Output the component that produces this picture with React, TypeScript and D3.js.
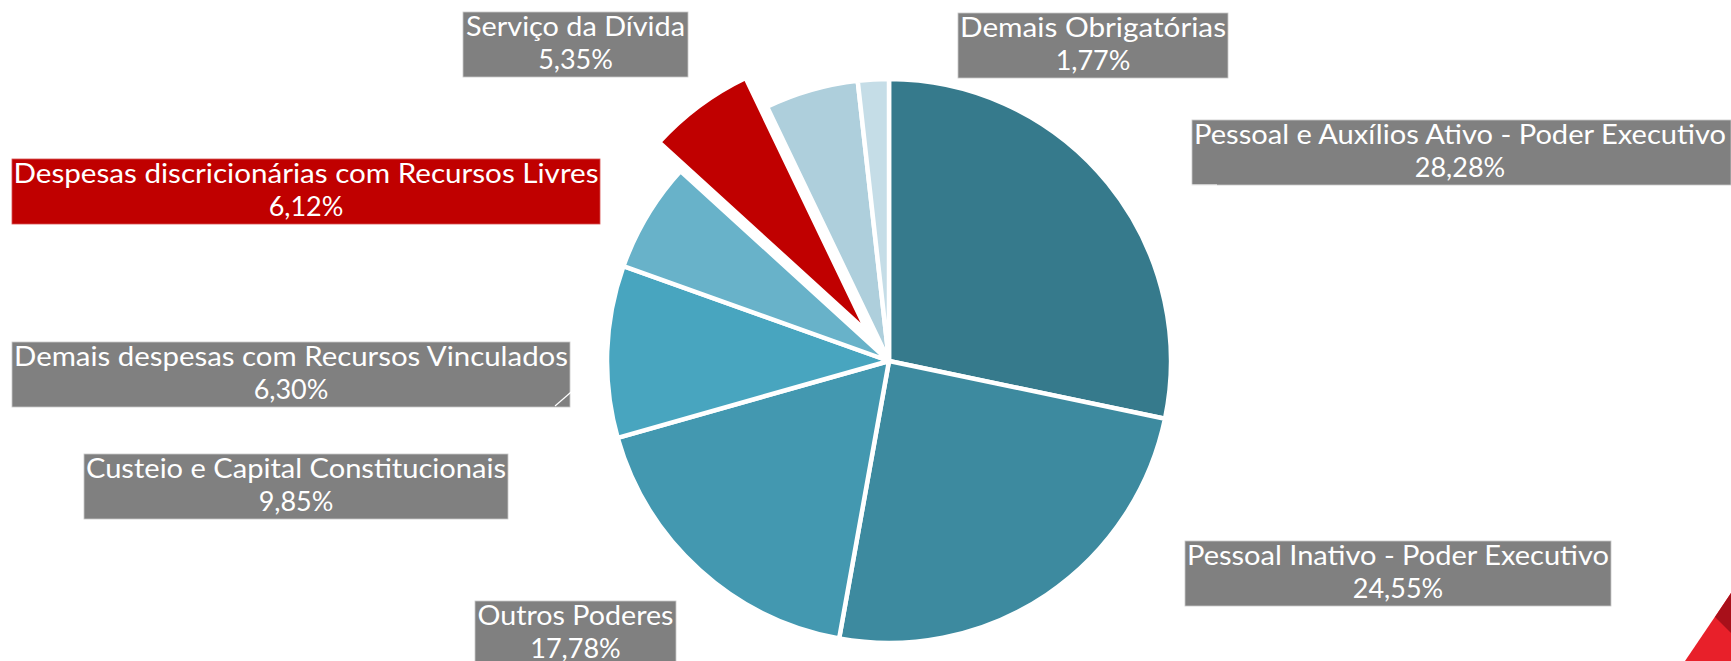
import React from "react";
import * as d3 from "d3";

// ---- Data ----
const categories: string[] = [
  "Pessoal e Auxílios Ativo - Poder Executivo",
  "Pessoal Inativo - Poder Executivo",
  "Outros Poderes",
  "Custeio e Capital Constitucionais",
  "Demais despesas com Recursos Vinculados",
  "Despesas discricionárias com Recursos Livres",
  "Serviço da Dívida",
  "Demais Obrigatórias",
];
const values: number[] = [28.28, 24.55, 17.78, 9.85, 6.3, 6.12, 5.35, 1.77];
const highlightIndex = 5;

// ---- Styles ----
const sliceColors: string[] = [
  "#367A8C",
  "#3D8A9F",
  "#4398B0",
  "#48A5BF",
  "#68B2C9",
  "#C00000",
  "#AECFDC",
  "#C5DDE7",
];

// ---- Layout (label boxes, manually placed as in the original) ----
const labelBoxes = [
  { x0: 1192, x1: 1731, y0: 120, tw: 532 },
  { x0: 1185, x1: 1611, y0: 541, tw: 422 },
  { x0: 475, x1: 676, y0: 601, tw: 196 },
  { x0: 84, x1: 508, y0: 454, tw: 420 },
  { x0: 12, x1: 570, y0: 342, tw: 554 },
  { x0: 12, x1: 600, y0: 159, tw: 585 },
  { x0: 463, x1: 688, y0: 12, tw: 219 },
  { x0: 958, x1: 1228, y0: 13, tw: 266 },
];

const W = 1731;
const H = 661;
const CX = 889;
const CY = 361;
const R = 282;
const EXPLODE = 36;
const BOX_H = 65;
const FONT = "Lato, 'Open Sans', sans-serif";

const fmtPct = (v: number) => d3.format(".2f")(v).replace(".", ",") + "%";

export default function App() {
  const pie = d3
    .pie<number>()
    .sort(null)
    .value((d) => d)
    .startAngle(0)
    .endAngle(2 * Math.PI);
  const arcs = pie(values);
  const arc = d3.arc<d3.PieArcDatum<number>>().innerRadius(0).outerRadius(R);

  return (
    <svg
      width={W}
      height={H}
      viewBox={`0 0 ${W} ${H}`}
      style={{ position: "absolute", left: 0, top: 0, display: "block", background: "#fff" }}
    >
      <rect x={0} y={0} width={W} height={H} fill="#ffffff" />
      {/* decorative corner */}
      <polygon points={`${W},593 ${W - 46},${H} ${W},${H}`} fill="#E8202A" />
      <polygon points={`${W},593 ${W - 16},617 ${W},633`} fill="#A8101A" />

      <g transform={`translate(${CX},${CY})`}>
        {arcs.map((a, i) => {
          const mid = (a.startAngle + a.endAngle) / 2;
          const off = i === highlightIndex ? EXPLODE : 0;
          const dx = Math.sin(mid) * off;
          const dy = -Math.cos(mid) * off;
          return (
            <path
              key={i}
              d={arc(a) || ""}
              transform={`translate(${dx},${dy})`}
              fill={sliceColors[i]}
              stroke="#ffffff"
              strokeWidth={4.5}
              strokeLinejoin="round"
            />
          );
        })}
      </g>

      {labelBoxes.map((b, i) => {
        const cx = (b.x0 + b.x1) / 2;
        const textCx = b.x0 + 2 + b.tw / 2;
        return (
          <g key={i}>
            <rect
              x={b.x0}
              y={b.y0}
              width={b.x1 - b.x0}
              height={BOX_H}
              fill={i === highlightIndex ? "#C00000" : "#808080"}
              stroke={i === highlightIndex ? "#D65050" : "#C8C8C8"}
              strokeWidth={0.8}
            />
            <text
              x={i === 0 ? textCx : cx}
              y={b.y0 + 24}
              textAnchor="middle"
              fontFamily={FONT}
              fontSize={27}
              fill="#ffffff"
              textLength={b.tw}
              lengthAdjust="spacingAndGlyphs"
            >
              {categories[i]}
            </text>
            <text
              x={i === 0 ? textCx : cx}
              y={b.y0 + 57}
              textAnchor="middle"
              fontFamily={FONT}
              fontSize={27}
              fill="#ffffff"
            >
              {fmtPct(values[i])}
            </text>
          </g>
        );
      })}

      {/* leader line remnants (white) */}
      <polyline points="1108,183 1192,185 1217,185" fill="none" stroke="#ffffff" strokeWidth={1.2} />
      <line x1={555} y1={406} x2={600} y2={367} stroke="#ffffff" strokeWidth={1.2} />
    </svg>
  );
}
